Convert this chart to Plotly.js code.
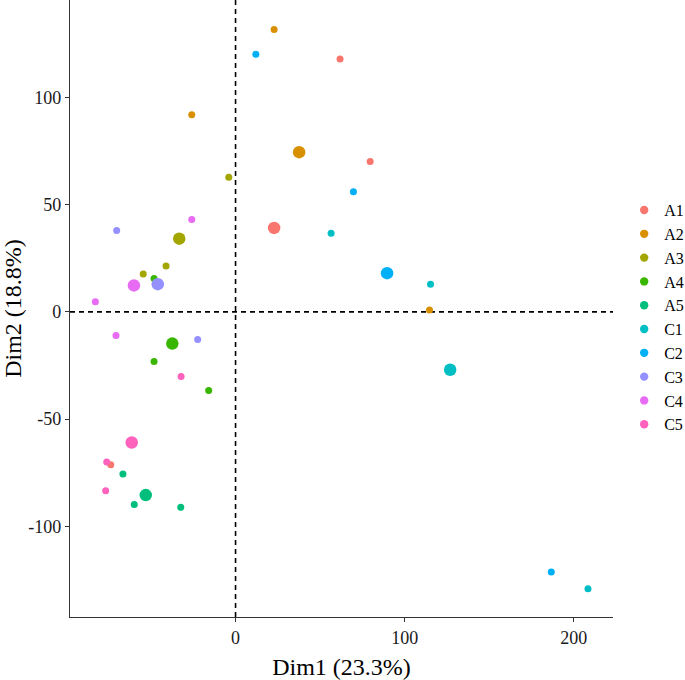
<!DOCTYPE html>
<html>
<head>
<meta charset="utf-8">
<script src="https://cdn.plot.ly/plotly-3.0.1.min.js"></script>
<style>
  html, body { margin: 0; padding: 0; background: #ffffff; }
  #chart { width: 685px; height: 680px; }
</style>
</head>
<body>
<div id="chart"></div>
<script>
// Groups and their colours (legend order)
const groups = ['A1', 'A2', 'A3', 'A4', 'A5', 'C1', 'C2', 'C3', 'C4', 'C5'];
const groupColors = ['#F8766D', '#D89000', '#A3A500', '#39B600', '#00BF7D',
                     '#00BFC4', '#00B0F6', '#9590FF', '#E76BF3', '#FF62BC'];

// Individual samples (small points)
const sampleGroup = ['A1', 'A1', 'A1', 'A2', 'A2', 'A2', 'A3', 'A3', 'A3',
                     'A4', 'A4', 'A4', 'A5', 'A5', 'A5', 'C1', 'C1', 'C1',
                     'C2', 'C2', 'C2', 'C3', 'C3', 'C3', 'C4', 'C4', 'C4',
                     'C5', 'C5', 'C5'];
const sampleDim1 = [61.8, 79.6, -73.8, 22.8, -25.9, 114.7, -4.0, -54.6, -41.1,
                    -48.2, -48.2, -15.9, -66.6, -59.9, -32.4, 56.5, 115.3, 208.4,
                    12.0, 69.7, 186.7, -70.3, -22.4, -45.3, -82.9, -70.7, -25.9,
                    -32.2, -76.2, -76.8];
const sampleDim2 = [117.8, 70.0, -71.3, 131.5, 91.8, 0.8, 62.7, 17.6, 21.3,
                    15.5, -23.1, -36.7, -75.6, -89.8, -91.1, 36.6, 12.9, -129.0,
                    120.0, 55.9, -121.2, 37.9, -12.9, 13.7, 4.7, -11.0, 43.0,
                    -30.1, -70.0, -83.4];

// Group centres (large points)
const centerDim1 = [22.8, 37.6, -33.3, -37.4, -53.1, 126.9, 89.6, -46.0, -60.1, -61.4];
const centerDim2 = [39.1, 74.4, 34.1, -14.8, -85.4, -27.0, 18.0, 12.9, 12.3, -60.9];

// Axis ticks
const xTicks = [0, 100, 200];
const yTicks = [-100, -50, 0, 50, 100];

const traces = groups.map(function (g, gi) {
  const xs = [], ys = [], sizes = [];
  sampleGroup.forEach(function (sg, i) {
    if (sg === g) { xs.push(sampleDim1[i]); ys.push(sampleDim2[i]); sizes.push(7); }
  });
  xs.push(centerDim1[gi]); ys.push(centerDim2[gi]); sizes.push(12.5);
  return {
    type: 'scatter',
    mode: 'markers',
    name: g,
    x: xs,
    y: ys,
    marker: { color: groupColors[gi], size: sizes, opacity: 1, line: { width: 0 } },
    opacity: 1,
    hoverinfo: 'x+y+name'
  };
});

const layout = {
  width: 685,
  height: 680,
  margin: { l: 70, r: 72, t: 0, b: 63, autoexpand: false },
  paper_bgcolor: '#ffffff',
  plot_bgcolor: '#ffffff',
  font: { family: 'Liberation Serif, Times New Roman, serif', color: '#000000' },
  showlegend: true,
  legend: {
    x: 1.0206, xanchor: 'left',
    y: 0.687, yanchor: 'top',
    font: { size: 16, family: 'Liberation Serif, serif', color: '#000000' },
    bgcolor: 'rgba(0,0,0,0)',
    borderwidth: 0,
    tracegroupgap: 0
  },
  xaxis: {
    range: [-97.9, 223.2],
    tickvals: xTicks,
    ticktext: xTicks.map(String),
    showgrid: false,
    zeroline: false,
    showline: true,
    linecolor: '#333333',
    linewidth: 1.2,
    ticks: 'outside',
    ticklen: 4,
    tickwidth: 1.2,
    tickcolor: '#333333',
    tickfont: { size: 18, color: '#1a1a1a' },
    title: { text: 'Dim1 (23.3%)', font: { size: 24, color: '#000000' }, standoff: 12 },
    mirror: false
  },
  yaxis: {
    range: [-142.2, 145.3],
    tickvals: yTicks,
    ticktext: yTicks.map(String),
    showgrid: false,
    zeroline: false,
    showline: true,
    linecolor: '#333333',
    linewidth: 1.2,
    ticks: 'outside',
    ticklen: 4,
    tickwidth: 1.2,
    tickcolor: '#333333',
    tickfont: { size: 18, color: '#1a1a1a' },
    title: { text: 'Dim2 (18.8%)', font: { size: 24, color: '#000000' }, standoff: 12 },
    mirror: false
  },
  shapes: [
    { type: 'line', xref: 'x', yref: 'paper', x0: 0, x1: 0, y0: 0, y1: 1,
      line: { color: '#000000', width: 1.6, dash: '5px,4px' }, layer: 'below' },
    { type: 'line', xref: 'paper', yref: 'y', x0: 0, x1: 1, y0: 0, y1: 0,
      line: { color: '#000000', width: 1.6, dash: '5px,4px' }, layer: 'below' }
  ]
};

Plotly.newPlot('chart', traces, layout, { displayModeBar: false, staticPlot: true });
</script>
</body>
</html>
